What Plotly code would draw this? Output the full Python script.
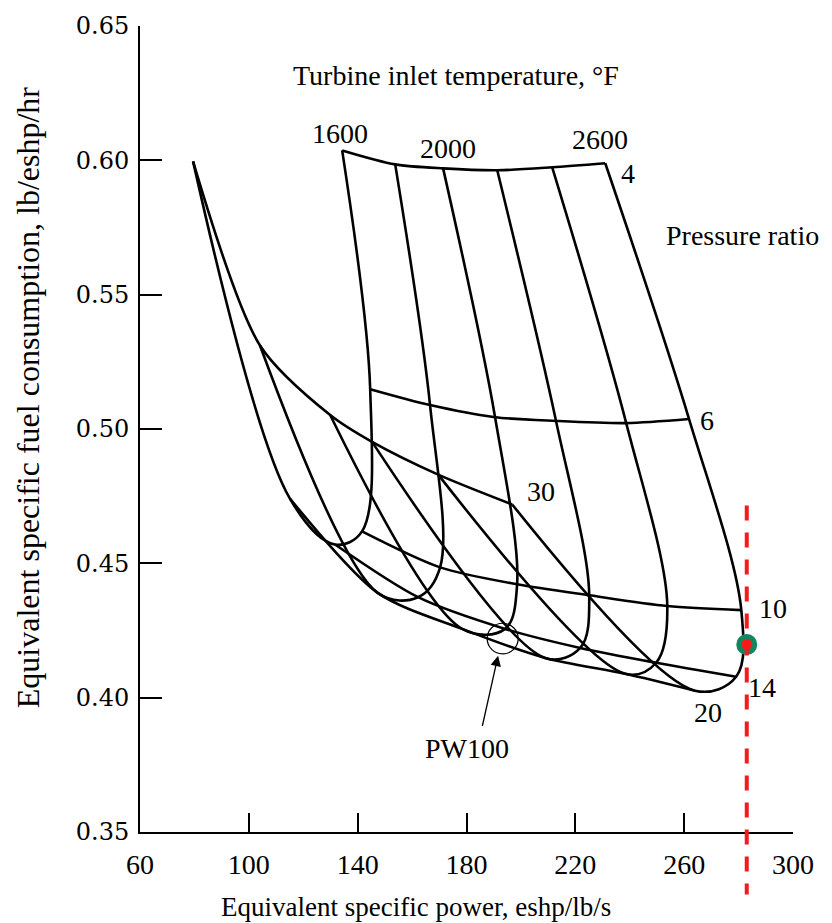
import plotly.graph_objects as go

# ---------------- data ----------------
# Carpet: lines of constant turbine inlet temperature (deg F) crossed by
# lines of constant compressor pressure ratio.
T_values = [1600, 1800, 2000, 2200, 2400, 2600]
PR_values = [4, 6, 10, 14, 20, 30]

# equivalent specific power (eshp/lb/s) at PR = 4, 6, 10, 14, 20, 30
power_1600 = [134.3, 144.6, 141.6, 131.7, 115.1, 79.5]
power_1800 = [153.8, 166.6, 170.3, 162.2, 147.5, 104.1]
power_2000 = [171.4, 190.5, 198.6, 194.2, 178.4, 129.9]
power_2200 = [191.3, 212.9, 225.1, 221.8, 208.9, 145.3]
power_2400 = [211.5, 238.7, 253.8, 249.7, 238.3, 169.6]
power_2600 = [231.0, 261.8, 281.0, 279.1, 264.0, 196.8]

# equivalent specific fuel consumption (lb/eshp/hr) at PR = 4, 6, 10, 14, 20, 30
sfc_1600 = [0.6037, 0.5148, 0.4619, 0.4570, 0.4741, 0.5996]
sfc_1800 = [0.5985, 0.5089, 0.4485, 0.4374, 0.4389, 0.5311]
sfc_2000 = [0.5970, 0.5044, 0.4422, 0.4256, 0.4256, 0.5052]
sfc_2200 = [0.5963, 0.5030, 0.4381, 0.4185, 0.4148, 0.4952]
sfc_2400 = [0.5974, 0.5022, 0.4341, 0.4130, 0.4089, 0.4830]
sfc_2600 = [0.5989, 0.5037, 0.4326, 0.4078, 0.4026, 0.4719]

# PW100 design point and the marked operating point
pw100_power, pw100_sfc = 193.3, 0.4220
mark_power, mark_sfc = 283.0, 0.4198

x_ticks = [60, 100, 140, 180, 220, 260, 300]
y_ticks = [0.35, 0.40, 0.45, 0.50, 0.55, 0.60, 0.65]

powers = [power_1600, power_1800, power_2000, power_2200, power_2400, power_2600]
sfcs = [sfc_1600, sfc_1800, sfc_2000, sfc_2200, sfc_2400, sfc_2600]

# ---------------- figure ----------------
fig = go.Figure()
LW = 2.6
SERIF = "Liberation Serif"

# constant temperature lines
for T, px, py in zip(T_values, powers, sfcs):
    fig.add_trace(go.Scatter(x=px, y=py, mode="lines",
                             line=dict(color="black", width=LW, shape="spline", smoothing=1.0),
                             hoverinfo="skip", name=f"T={T}"))

# constant pressure-ratio lines
for j, pr in enumerate(PR_values):
    fig.add_trace(go.Scatter(x=[p[j] for p in powers], y=[s[j] for s in sfcs], mode="lines",
                             line=dict(color="black", width=LW, shape="spline", smoothing=0.8),
                             hoverinfo="skip", name=f"PR={pr}"))

# marked point
fig.add_trace(go.Scatter(x=[mark_power], y=[mark_sfc], mode="markers",
                         marker=dict(size=16, color="#ff1a1a", line=dict(color="#12875f", width=5)),
                         hoverinfo="skip", cliponaxis=False))

# PW100 circle
fig.add_shape(type="circle", xref="x", yref="y",
              x0=pw100_power - 5.7, x1=pw100_power + 5.7,
              y0=pw100_sfc - 0.0057, y1=pw100_sfc + 0.0057,
              line=dict(color="black", width=1.2))

# red dashed vertical line (extends below the axis)
y_lo, y_hi = 0.35, 0.65
fig.add_shape(type="line", xref="x", yref="paper",
              x0=mark_power, x1=mark_power,
              y0=(0.4715 - y_lo) / (y_hi - y_lo), y1=(0.3267 - y_lo) / (y_hi - y_lo),
              line=dict(color="#f51b1b", width=4, dash="15px,12px"))

ann_font = dict(family=SERIF, size=28, color="black")
labels = [
    ("Turbine inlet temperature, °F", 176.2, 0.6315),
    ("Pressure ratio", 281.3, 0.5719),
    ("1600", 133.5, 0.6100),
    ("2000", 173.2, 0.6044),
    ("2600", 229.0, 0.6078),
    ("4", 239.3, 0.5950),
    ("6", 268.5, 0.5033),
    ("30", 207.4, 0.4767),
    ("10", 292.7, 0.4333),
    ("14", 288.7, 0.4037),
    ("20", 268.8, 0.3944),
    ("PW100", 180.2, 0.3811),
]
for txt, ax_, ay_ in labels:
    fig.add_annotation(x=ax_, y=ay_, xref="x", yref="y", text=txt, showarrow=False,
                       font=ann_font, xanchor="center", yanchor="middle")

# PW100 arrow
fig.add_annotation(x=191.6, y=0.4156, ax=185.7, ay=0.3889, axref="x", ayref="y",
                   xref="x", yref="y", text="", showarrow=True,
                   arrowhead=2, arrowsize=1.6, arrowwidth=1.3, arrowcolor="black")

# axis titles (placed as in the reference: x title centred on the page)
fig.add_annotation(x=0.4227, y=-0.0935, xref="paper", yref="paper",
                   text="Equivalent specific power, eshp/lb/s", showarrow=False,
                   font=dict(family=SERIF, size=27, color="black"),
                   xanchor="center", yanchor="middle")
fig.add_annotation(x=-0.1715, y=0.5395, xref="paper", yref="paper", textangle=-90,
                   text="Equivalent specific fuel consumption, lb/eshp/hr", showarrow=False,
                   font=dict(family=SERIF, size=32, color="black"),
                   xanchor="center", yanchor="middle")

fig.update_xaxes(range=[60, 300], tickvals=x_ticks, ticktext=[str(v) for v in x_ticks],
                 ticks="inside", ticklen=19, tickwidth=1.5, tickcolor="black",
                 showline=True, linewidth=2, linecolor="black",
                 showgrid=False, zeroline=False, ticklabelstandoff=6,
                 tickfont=dict(family=SERIF, size=28, color="black"))
fig.update_yaxes(range=[y_lo, y_hi], tickvals=y_ticks, ticktext=[f"{v:.2f}" for v in y_ticks],
                 ticks="inside", ticklen=22, tickwidth=1.5, tickcolor="black",
                 showline=True, linewidth=2, linecolor="black",
                 showgrid=False, zeroline=False, ticklabelstandoff=4,
                 tickfont=dict(family="DejaVu Serif", size=24, color="black"))

fig.update_layout(width=832, height=923, margin=dict(l=140, r=39, t=22, b=91),
                  plot_bgcolor="white", paper_bgcolor="white", showlegend=False)

fig.write_html("out.html")
